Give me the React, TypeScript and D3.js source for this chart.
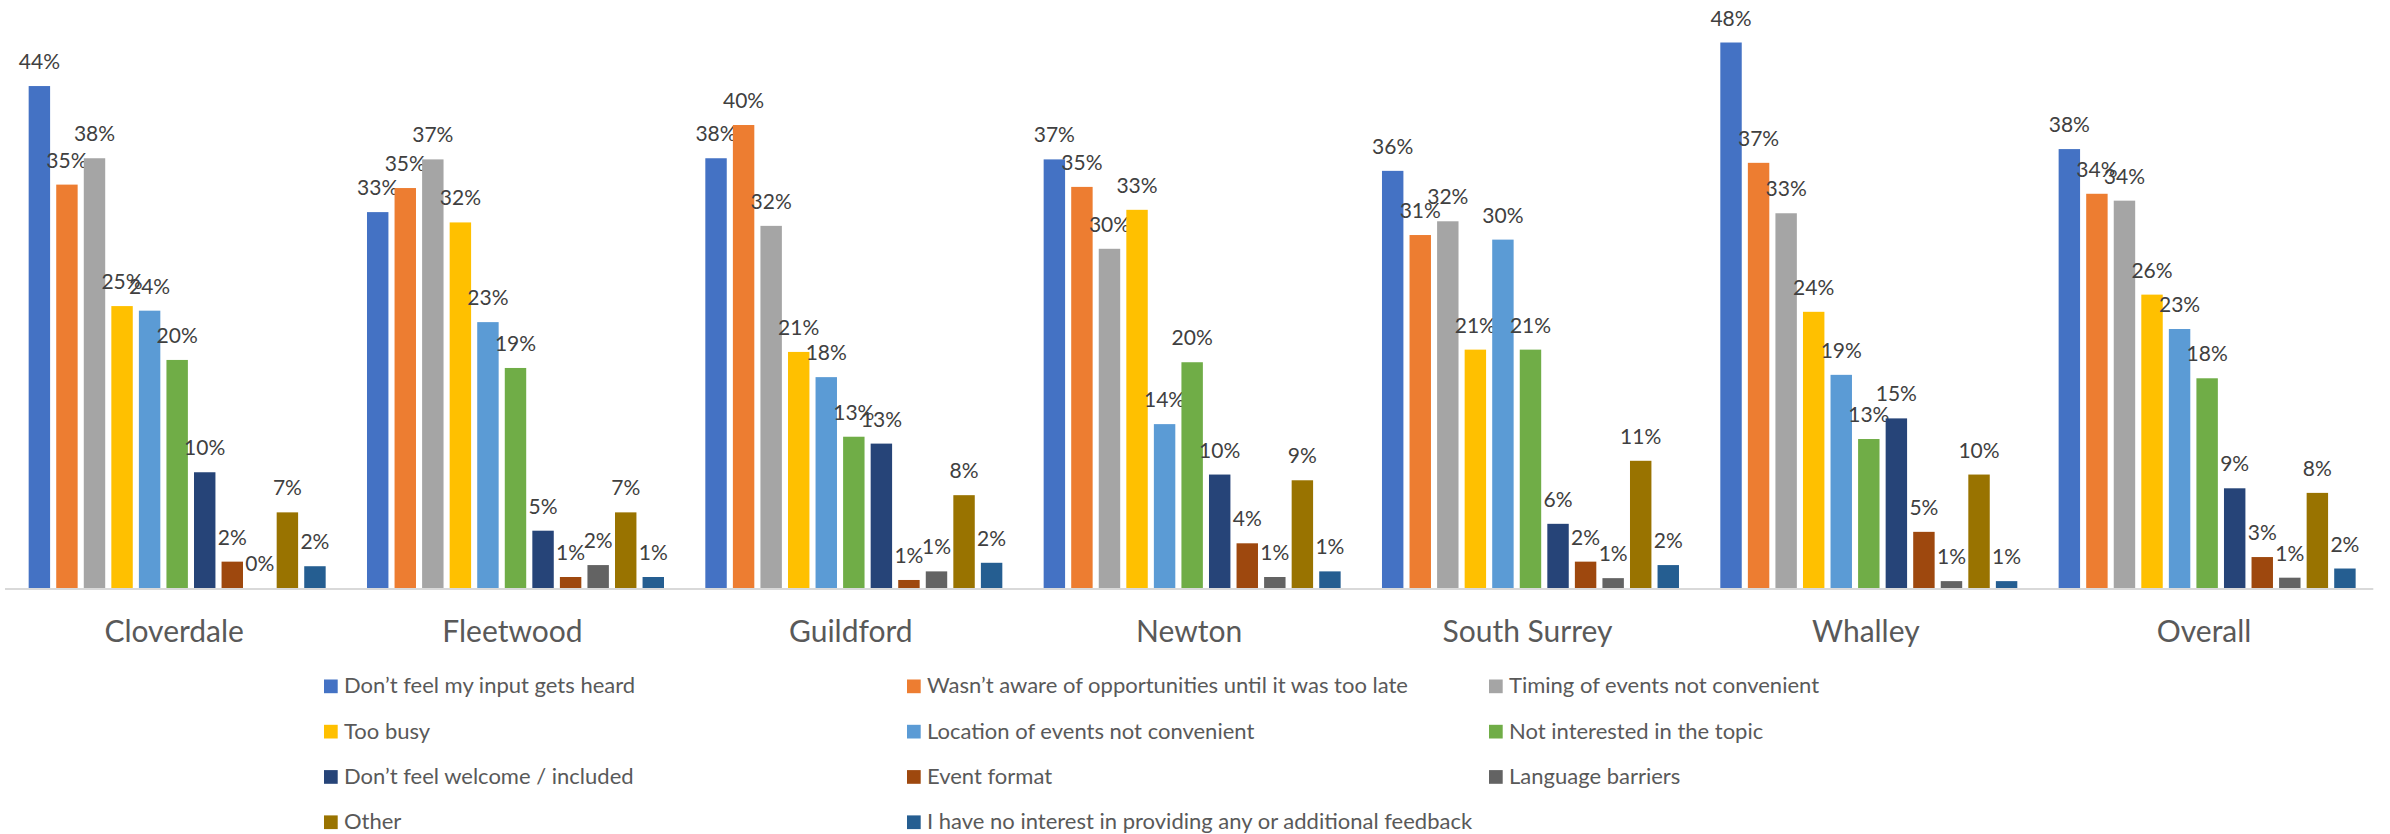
import React from "react";
import * as d3 from "d3";

const categories = ["Cloverdale", "Fleetwood", "Guildford", "Newton", "South Surrey", "Whalley", "Overall"];

const seriesNames = [
  "Don\u2019t feel my input gets heard",
  "Wasn\u2019t aware of opportunities until it was too late",
  "Timing of events not convenient",
  "Too busy",
  "Location of events not convenient",
  "Not interested in the topic",
  "Don\u2019t feel welcome / included",
  "Event format",
  "Language barriers",
  "Other",
  "I have no interest in providing any or additional feedback",
];

const seriesColors = [
  "#4472C4", "#ED7D31", "#A5A5A5", "#FFC000", "#5B9BD5", "#70AD47",
  "#264478", "#9E480E", "#636363", "#997300", "#255E91",
];

// values (%) per category, in series order
const cloverdale = [43.8, 35.2, 37.5, 24.6, 24.2, 19.9, 10.1, 2.3, 0, 6.6, 1.9];
const fleetwood = [32.8, 34.9, 37.4, 31.9, 23.2, 19.2, 5.0, 0.96, 2.0, 6.6, 0.96];
const guildford = [37.5, 40.4, 31.6, 20.6, 18.4, 13.2, 12.6, 0.7, 1.45, 8.1, 2.2];
const newton = [37.4, 35.0, 29.6, 33.0, 14.3, 19.7, 9.9, 3.9, 0.96, 9.4, 1.45];
const southSurrey = [36.4, 30.8, 32.0, 20.8, 30.4, 20.8, 5.6, 2.3, 0.86, 11.1, 2.0];
const whalley = [47.6, 37.1, 32.7, 24.1, 18.6, 13.0, 14.8, 4.9, 0.6, 9.9, 0.6];
const overall = [38.3, 34.4, 33.8, 25.6, 22.6, 18.3, 8.7, 2.7, 0.9, 8.3, 1.7];

const values = [cloverdale, fleetwood, guildford, newton, southSurrey, whalley, overall];

const W = 2390;
const H = 834;
const plotLeft = 5;
const plotRight = 2373.3;
const baseY = 588;
const FONT = "Lato, 'Open Sans', sans-serif";

export default function App() {
  const x0 = d3.scaleBand<string>().domain(categories).range([plotLeft, plotRight]).padding(0);
  const B = x0.bandwidth();
  const step = 27;
  const barW = 21;
  const groupW = step * seriesNames.length - (step - barW);
  const x1 = d3
    .scaleBand<number>()
    .domain(d3.range(seriesNames.length))
    .range([(B - groupW) / 2, (B - groupW) / 2 + step * seriesNames.length])
    .paddingInner((step - barW) / step)
    .paddingOuter(0)
    .align(0);
  const y = d3.scaleLinear().domain([0, 50]).range([baseY, baseY - 50 * 11.46]);

  const legendCols = [324, 907, 1489];
  const legendRows = [686.3, 731.6, 776.9, 822.2];

  return (
    <svg width={W} height={H} style={{ position: "absolute", left: 0, top: 0, background: "#fff" }}>
      <rect x={0} y={0} width={W} height={H} fill="#fff" />
      {categories.map((c, ci) => (
        <g key={c} transform={`translate(${x0(c)},0)`}>
          {values[ci].map((v, si) => {
            const bx = x1(si)!;
            const bw = x1.bandwidth();
            return (
              <g key={si}>
                {v > 0 && (
                  <rect x={bx} y={y(v)} width={bw} height={baseY - y(v)} fill={seriesColors[si]} />
                )}
                <text
                  x={bx + bw / 2}
                  y={y(v) - 17}
                  textAnchor="middle"
                  fontFamily={FONT}
                  fontSize={21}
                  fill="#404040"
                >
                  {`${Math.round(v)}%`}
                </text>
              </g>
            );
          })}
          <text
            x={B / 2}
            y={642}
            textAnchor="middle"
            fontFamily={FONT}
            fontSize={30}
            fill="#595959"
          >
            {c}
          </text>
        </g>
      ))}
      <line x1={plotLeft} x2={plotRight} y1={baseY + 1} y2={baseY + 1} stroke="#D9D9D9" strokeWidth={2} />
      {seriesNames.map((s, i) => {
        const col = i % 3;
        const row = Math.floor(i / 3);
        const lx = legendCols[col];
        const ly = legendRows[row];
        return (
          <g key={s}>
            <rect x={lx} y={ly - 6.8} width={13.7} height={13.7} fill={seriesColors[i]} />
            <text x={lx + 20} y={ly + 7} fontFamily={FONT} fontSize={22} fill="#595959">
              {s}
            </text>
          </g>
        );
      })}
    </svg>
  );
}
